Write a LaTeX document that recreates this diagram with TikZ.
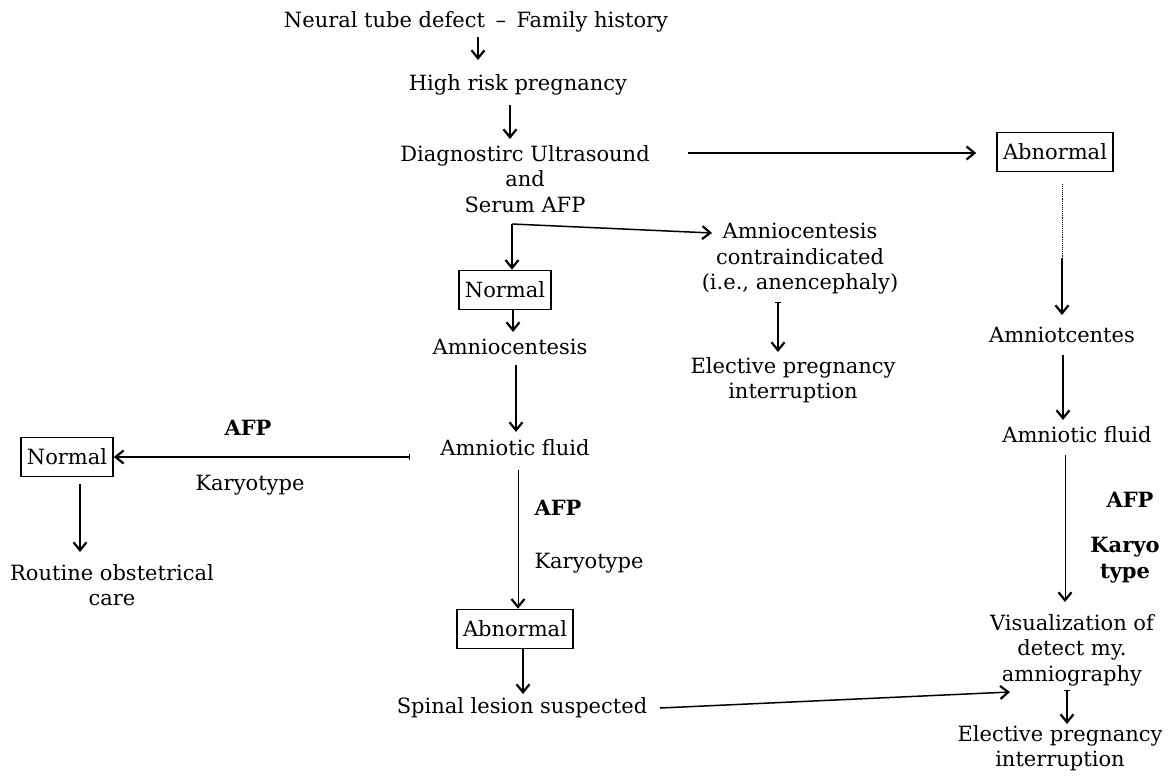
\documentclass[tikz,border=0pt]{standalone}
\usepackage{fontspec}
\setmainfont{DejaVu Serif}
\usetikzlibrary{arrows.meta,calc}
\begin{document}
\begin{tikzpicture}[x=1pt,y=-1pt,
  every node/.style={font=\fontsize{21}{25.5}\selectfont, inner sep=0pt, align=center},
  lab/.style={font=\fontsize{21}{25.5}\selectfont\bfseries},
  box/.style={draw, line width=1.5pt, inner xsep=6pt, minimum height=39pt},
  arr/.style={line width=1.5pt, -{Straight Barb[length=8pt,width=13pt,line width=2.2pt]}},
  thinarr/.style={arr, line width=1pt},
  tailarr/.style={line width=1.5pt, {Bar[width=6pt,line width=1pt]}-{Straight Barb[length=8pt,width=13pt,line width=2.2pt]}},
]
\useasboundingbox (0,0) rectangle (1173,777);

% nodes
\node (n1) at (476,22) {Neural tube defect\hspace{0.5em}--\hspace{0.5em}Family history};
\node (n2) at (518,85) {High risk pregnancy};
\node (n3) at (525,179) {Diagnostirc Ultrasound\\and\\Serum AFP};
\node[box] (abn1) at (1055,152) {Abnormal};
\node[box] (norm1) at (505,290) {Normal};
\node (amc) at (510,347) {Amniocentesis};
\node (contra) at (800,259) {Amniocentesis\\contraindicated\\(i.e., anencephaly)};
\node (elec1) at (793,380) {Elective pregnancy\\interruption};
\node (af) at (515,448) {Amniotic fluid};
\node[box] (norm2) at (67,457) {Normal};
\node (roc) at (112,585) {Routine obstetrical\\care};
\node[box] (abn2) at (515,629) {Abnormal};
\node (spl) at (522,708) {Spinal lesion suspected};
\node (amt) at (1062,335) {Amniotcentes};
\node (af2) at (1077,435) {Amniotic fluid};
\node (vis) at (1072,650) {Visualization of\\detect my.\\amniography};
\node (elec2) at (1060,748) {Elective pregnancy\\interruption};

% labels
\node[lab] (afp1) at (248,428) {AFP};
\node (kar1) at (250,485) {Karyotype};
\node[lab] (afp2) at (558,508) {AFP};
\node (kar2) at (589,563) {Karyotype};
\node[lab] (afp3) at (1130,500) {AFP};
\node[lab] (kar3) at (1125,560) {Karyo\\type};

% connectors
\draw[arr] ($(n1)+(2,15)$) -- ($(n2)+(-40,-25)$);
\draw[arr] ($(n2)+(-8,20)$) -- ($(n3)+(-15,-40)$);
\coordinate (c1) at ($(n3)+(163,-26)$);
\draw[arr] (c1) -- ($(abn1.west |- c1)+(-20,0)$);
\coordinate (br) at ($(n3)+(-13,45)$);
\coordinate (c2) at ($(contra)+(-88,-26)$);
\draw[arr] (br) -- (c2);
\draw[arr] (br) -- (br |- norm1.north);
\draw[arr] ($(norm1.south)+(8,0)$) -- ($(amc)+(3,-15)$);
\draw[arr] ($(amc)+(6,18)$) -- ($(af)+(1,-16)$);
\draw[tailarr] ($(af)+(-105,9)$) -- (norm2.east);
\draw[arr] ($(norm2.south)+(13,7)$) -- ($(roc)+(-32,-33)$);
\draw[thinarr] ($(af)+(3,22)$) -- ($(abn2.north)+(3,0)$);
\draw[arr] ($(abn2.south)+(8,0)$) -- ($(spl)+(1,-14)$);
\draw[arr] ($(spl)+(138,0)$) -- ($(vis)+(-62,42)$);
\draw[tailarr] ($(contra)+(-22,43)$) -- ($(elec1)+(-15,-28)$);
\draw[line width=0.9pt, densely dotted] ($(abn1.south)+(7,12)$) -- ($(amt)+(0,-77)$);
\draw[arr] ($(amt)+(0,-77)$) -- ($(amt)+(0,-20)$);
\draw[arr] ($(amt)+(1,20)$) -- ($(af2)+(-14,-15)$);
\draw[thinarr] ($(af2)+(-12,20)$) -- ($(vis)+(-7,-48)$);
\draw[tailarr] ($(vis)+(-5,40)$) -- ($(elec2)+(7,-24)$);
\end{tikzpicture}
\end{document}
